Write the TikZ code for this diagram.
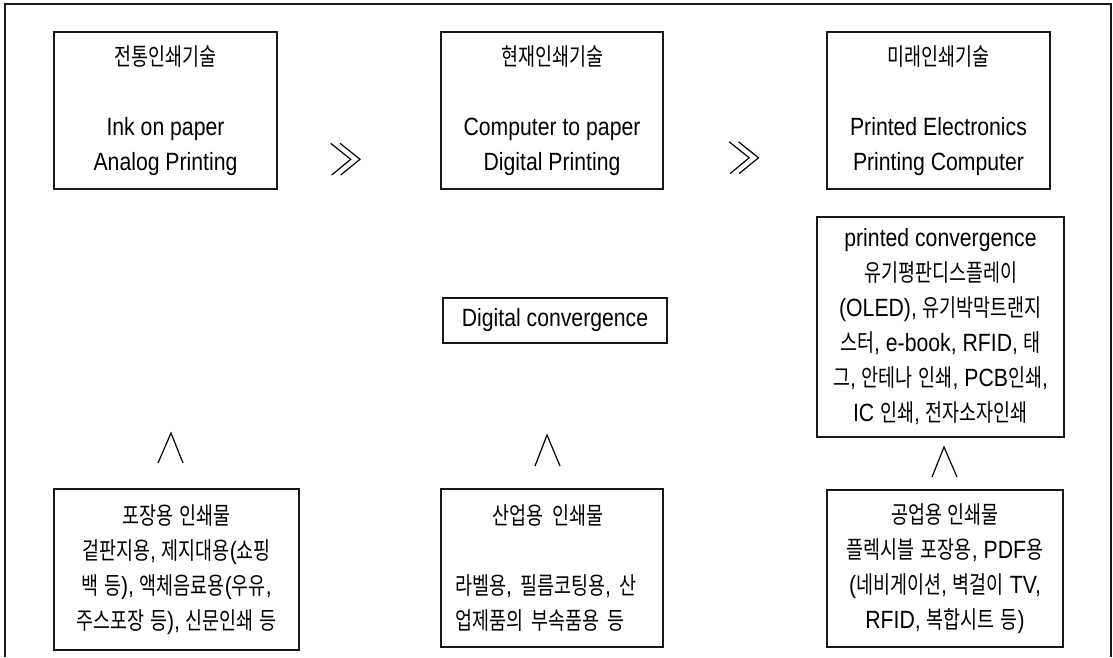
\documentclass[tikz,border=0pt]{standalone}
\usepackage{fontspec}
\setmainfont{Liberation Sans}[FakeStretch=0.85, Scale=1.04]
\newfontfamily\latfont{Liberation Sans}[FakeStretch=0.85, Scale=1.04]
\newfontfamily\krfont{Noto Sans CJK KR}[FakeStretch=0.77]
\XeTeXinterchartokenstate=1
\newXeTeXintercharclass\krclass
\newcount\krcnt
\krcnt="AC00
\loop
  \XeTeXcharclass\krcnt=\krclass
  \ifnum\krcnt<"D7A3 \advance\krcnt by 1
\repeat
\XeTeXinterchartoks 0 \krclass = {\krfont}
\XeTeXinterchartoks 4095 \krclass = {\krfont}
\XeTeXinterchartoks \krclass 0 = {\latfont}
\XeTeXinterchartoks \krclass 4095 = {\latfont}
\tikzset{
  boxnode/.style={draw=black!90, line width=1.2pt, inner sep=0pt, align=center,
    font=\fontsize{24}{35}\selectfont, text=black},
  frameline/.style={draw=black!90, line width=1.3pt},
  symline/.style={draw=black, line width=1.2pt},
}
\begin{document}
\begin{tikzpicture}[x=1pt,y=-1pt]
\useasboundingbox (0,0) rectangle (1113,657);
\fill[white] (0,0) rectangle (1113,657);
% outer frame (open at bottom)
\coordinate (fbl) at (5,657);
\coordinate (ftl) at (5,4);
\coordinate (ftr) at (1111,4);
\coordinate (fbr) at (1111,657);
\draw[frameline] (fbl) -- (ftl) -- (ftr) -- (fbr);

% top row
\node[boxnode, minimum width=223pt, minimum height=157pt] (b1) at (165.5,110.5)
  {전통인쇄기술\\[35pt]Ink on paper\\Analog Printing};
\node[boxnode, minimum width=222pt, minimum height=157pt] (b2) at (552,110.5)
  {현재인쇄기술\\[35pt]Computer to paper\\Digital Printing};
\node[boxnode, minimum width=223pt, minimum height=157pt] (b3) at (938.5,110.5)
  {미래인쇄기술\\[35pt]Printed Electronics\\Printing Computer};

% middle row
\node[boxnode, minimum width=224pt, minimum height=45pt] (dc) at (555,320.5)
  {Digital convergence};
\node[boxnode, minimum width=247pt, minimum height=220pt] (pc) at (940.5,327)
  {printed convergence\\유기평판디스플레이\\(OLED), 유기박막트랜지\\스터, e-book, RFID, 태\\그, 안테나 인쇄, PCB인쇄,\\IC 인쇄, 전자소자인쇄};

% bottom row
\node[boxnode, minimum width=245pt, minimum height=161pt] (p1) at (176.5,569.5)
  {포장용 인쇄물\\겉판지용, 제지대용(쇼핑\\백 등), 액체음료용(우유,\\주스포장 등), 신문인쇄 등};
\node[boxnode, minimum width=222pt, minimum height=158pt, text width=194pt, align=left] (p2) at (552,568)
  {\makebox[186pt]{산업용 인쇄물}\\[35pt]라벨용, 필름코팅용, 산\\업제품의 부속품용 등};
\node[boxnode, minimum width=236pt, minimum height=157pt] (p3) at (945,568.5)
  {공업용 인쇄물\\플렉시블 포장용, PDF용\\(네비게이션, 벽걸이 TV,\\RFID, 복합시트 등)};

% double chevrons between top boxes
\draw[symline] (330.7,143.3) -- (350.7,159.3) -- (331.7,175);
\draw[symline] (340,143.3) -- (360,159.3) -- (340.7,175);
\draw[symline] (729.2,141.8) -- (749.2,157.8) -- (730.2,173.5);
\draw[symline] (738.5,141.8) -- (758.5,157.8) -- (739.2,173.5);

% carets
\draw[symline] (158,463) -- (171,433) -- (183,463);
\draw[symline] (535,466) -- (547,435) -- (560,466);
\draw[symline] (932,477) -- (944,447) -- (957,477);
\end{tikzpicture}
\end{document}
